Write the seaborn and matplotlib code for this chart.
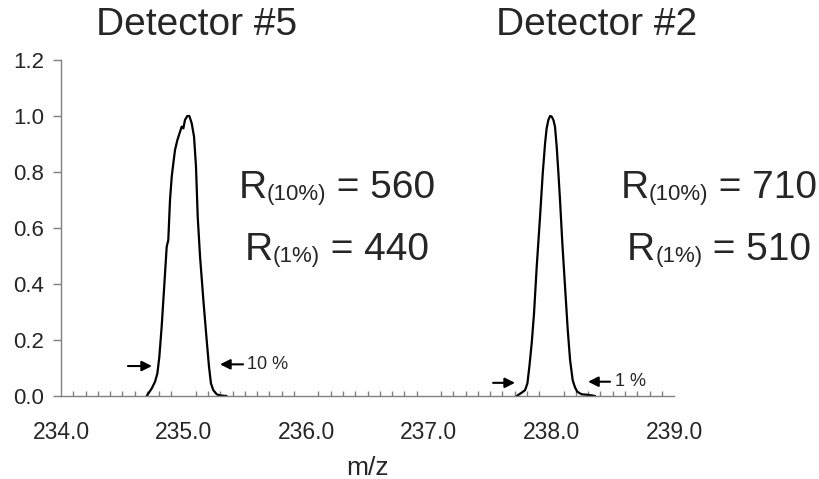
import numpy as np
import pandas as pd
import matplotlib
matplotlib.use("Agg")
import matplotlib.pyplot as plt
import seaborn as sns
from matplotlib.ticker import MultipleLocator

# Peak traces (m/z, normalised intensity)
peak5_mz = [234.699, 234.740, 234.767, 234.786, 234.802, 234.821, 234.840, 234.862,
            234.875, 234.889, 234.903, 234.916, 234.930, 234.949, 234.971, 234.984,
            234.998, 235.011, 235.030, 235.047, 235.066, 235.085, 235.101, 235.115,
            235.134, 235.161, 235.188, 235.207, 235.223, 235.242, 235.270, 235.297,
            235.351]
peak5_int = [0.000, 0.027, 0.051, 0.081, 0.140, 0.248, 0.379, 0.533,
             0.557, 0.700, 0.783, 0.831, 0.879, 0.914, 0.944, 0.962,
             0.956, 0.986, 1.000, 1.000, 0.974, 0.926, 0.819, 0.640,
             0.498, 0.343, 0.200, 0.105, 0.045, 0.021, 0.006, 0.002,
             0.000]

peak2_mz = [237.717, 237.758, 237.785, 237.804, 237.820, 237.839, 237.858, 237.880,
            237.907, 237.929, 237.948, 237.961, 237.975, 237.989, 238.002, 238.016,
            238.029, 238.043, 238.057, 238.070, 238.089, 238.111, 238.133, 238.152,
            238.173, 238.192, 238.211, 238.247, 238.301, 238.356]
peak2_int = [0.000, 0.012, 0.021, 0.045, 0.105, 0.188, 0.295, 0.462,
             0.640, 0.795, 0.902, 0.956, 0.986, 1.000, 0.998, 0.986,
             0.962, 0.890, 0.795, 0.700, 0.545, 0.390, 0.236, 0.129,
             0.057, 0.031, 0.015, 0.006, 0.004, 0.000]

titles = ["Detector #5", "Detector #2"]
res_10 = [560, 710]
res_1 = [440, 510]

sns.set_style("white")
plt.rcParams['font.family'] = ['Liberation Sans', 'DejaVu Sans']

fig, ax = plt.subplots(figsize=(8.2, 4.79), dpi=100)
fig.subplots_adjust(left=0.0744, right=0.822, bottom=0.1733, top=0.8747)

sns.lineplot(x=peak5_mz, y=peak5_int, ax=ax, color='black', lw=1.6)
sns.lineplot(x=peak2_mz, y=peak2_int, ax=ax, color='black', lw=1.6)

ax.set_xlim(234, 239)
ax.set_ylim(0, 1.2)
ax.set_xticks(np.arange(234, 239.5, 1.0))
ax.set_xticklabels([f"{v:.1f}" for v in np.arange(234, 239.5, 1.0)])
ax.set_yticks(np.arange(0, 1.25, 0.2))
ax.set_yticklabels([f"{v:.1f}" for v in np.arange(0, 1.25, 0.2)])
ax.xaxis.set_minor_locator(MultipleLocator(0.1))

ax.tick_params(axis='x', which='major', direction='out', length=6, width=1,
               color='#808080', labelsize=16.5, pad=12)
ax.tick_params(axis='x', which='minor', direction='in', length=3.6, width=1,
               color='#808080', bottom=True)
ax.tick_params(axis='y', which='major', direction='out', length=6, width=1,
               color='#808080', labelsize=16, pad=6, left=True)
for side in ['top', 'right']:
    ax.spines[side].set_visible(False)
for side in ['bottom', 'left']:
    ax.spines[side].set_color('#808080')
    ax.spines[side].set_linewidth(1)

ax.set_xlabel("m/z", fontsize=19, labelpad=9)
ax.set_ylabel("")

# headings
fig.text(0.240, 0.948, titles[0], fontsize=28, ha='center', va='center')
fig.text(0.727, 0.948, titles[1], fontsize=28, ha='center', va='center')

# resolution labels: big R, small "(x%)" on nearly the same baseline, then value
renderer = fig.canvas.get_renderer()
W = fig.get_figwidth() * fig.dpi


def res_label(xc, y, pct, value):
    parts = [("R", 28, 0.0), (f"({pct}%)", 16, -0.004), (f" = {value}", 28, 0.0)]
    objs = []
    for s, fs, dy in parts:
        t = fig.text(0, y + dy, s, fontsize=fs, ha='left', va='baseline')
        objs.append((t, t.get_window_extent(renderer).width))
    total = sum(w for _, w in objs)
    x = xc * W - total / 2
    for t, w in objs:
        t.set_x(x / W)
        x += w


for xc, r10, r1 in [(0.411, res_10[0], res_1[0]), (0.877, res_10[1], res_1[1])]:
    res_label(xc, 0.5866, 10, r10)
    res_label(xc, 0.4572, 1, r1)

# width markers
arrow = dict(arrowstyle='-|>', color='black', lw=1.5, mutation_scale=15,
             shrinkA=0, shrinkB=0)
ax.annotate("", xy=(234.742, 0.107), xytext=(234.546, 0.107), arrowprops=arrow)
ax.annotate("", xy=(235.297, 0.113), xytext=(235.485, 0.113), arrowprops=arrow)
ax.text(235.52, 0.113, "10 %", fontsize=13, va='center', ha='left')

ax.annotate("", xy=(237.703, 0.047), xytext=(237.524, 0.047), arrowprops=arrow)
ax.annotate("", xy=(238.299, 0.051), xytext=(238.478, 0.051), arrowprops=arrow)
ax.text(238.52, 0.051, "1 %", fontsize=13, va='center', ha='left')

fig.savefig("out.png", dpi=100)
